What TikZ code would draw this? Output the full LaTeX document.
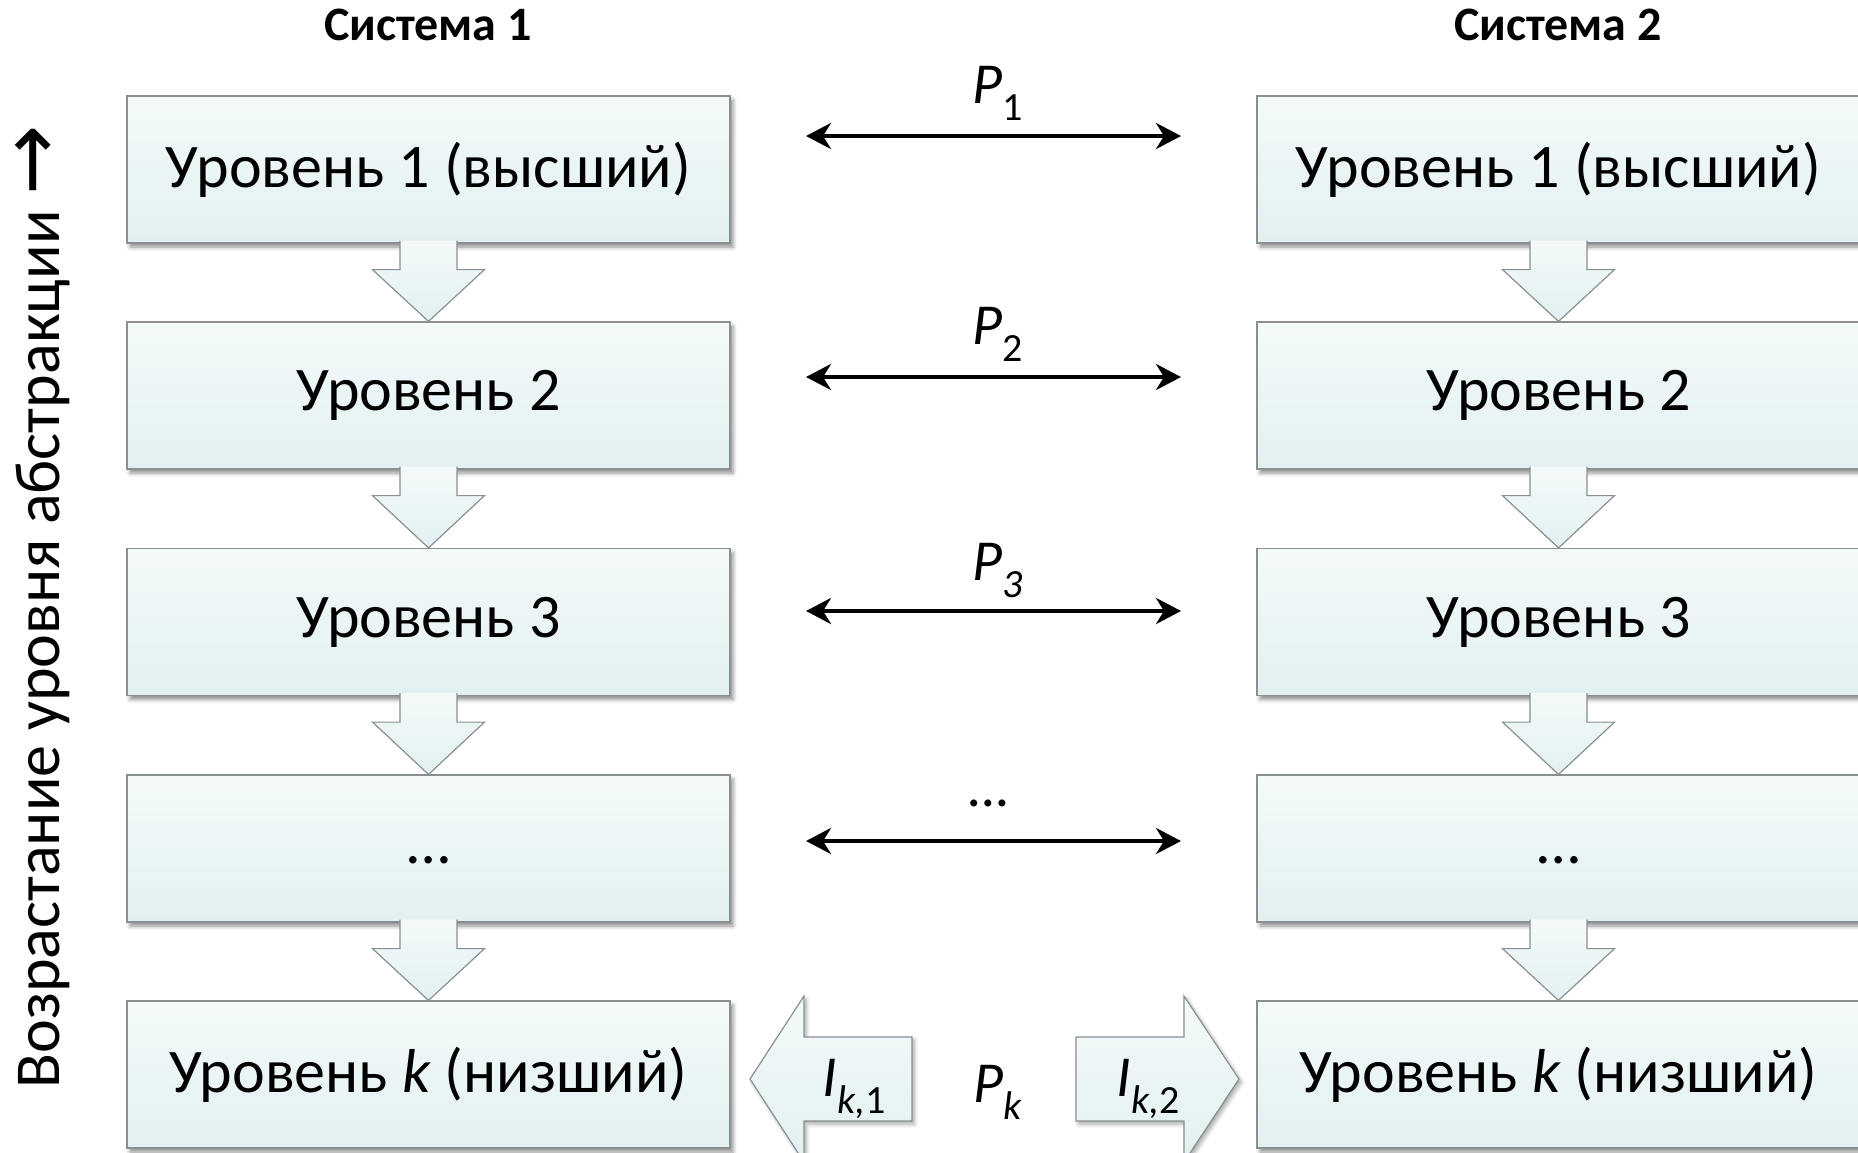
\documentclass[tikz,border=0pt]{standalone}
\usepackage{fontspec}
\setmainfont{Carlito}
\newfontfamily\symfont{DejaVu Sans}
\usetikzlibrary{calc,arrows.meta,shadows.blur}

\definecolor{boxtop}{HTML}{F4FAFA}
\definecolor{boxbot}{HTML}{E2F0F1}
\definecolor{boxline}{HTML}{8A8F90}

% lowered index after an italic letter
\newcommand\lowidx[1]{\raisebox{-8.5pt}{\fontsize{20}{20}\selectfont #1}}

\tikzset{
  level/.style={draw=boxline, line width=0.6pt, top color=boxtop, bottom color=boxbot,
    minimum width=301.5pt, minimum height=73.5pt, inner sep=0pt,
    font=\fontsize{31}{36}\selectfont,
    blur shadow={shadow xshift=1.5pt, shadow yshift=-2pt, shadow blur radius=2pt, shadow opacity=45}},
  flow/.style={draw=boxline, line width=0.6pt, top color=boxtop, bottom color=boxbot},
  fatflow/.style={draw=boxline, line width=0.6pt, top color=boxtop, bottom color=boxbot,
    blur shadow={shadow xshift=1.2pt, shadow yshift=-1.5pt, shadow blur radius=2pt, shadow opacity=35}},
  peer/.style={line width=2.2pt,
    {Stealth[length=12.5pt,width=13pt,inset=4pt]}-{Stealth[length=12.5pt,width=13pt,inset=4pt]}},
  lbl/.style={inner sep=0pt, anchor=base west, font=\fontsize{29}{34}\selectfont},
  head/.style={inner sep=0pt, anchor=base, font=\fontsize{24}{28}\selectfont\bfseries},
}

\begin{document}
\begin{tikzpicture}[x=0.5pt, y=-0.5pt]
\useasboundingbox (0,0) rectangle (1858,1152);

% column headers
\node[head] (sys1) at (428,40) {Система 1};
\node[head] (sys2) at (1558,40) {Система 2};

% system 1 layers
\node[level] (L1) at (428.5,169.5)  {Уровень 1 (высший)};
\node[level] (L2) at (428.5,395.5)  {Уровень 2};
\node[level] (L3) at (428.5,622)    {Уровень 3};
\node[level] (L4) at (428.5,848.5)  {\vphantom{Уровень}…};
\node[level] (L5) at (428.5,1074.5) {Уровень \textit{k} (низший)};

% system 2 layers
\node[level] (R1) at (1558.5,169.5)  {Уровень 1 (высший)};
\node[level] (R2) at (1558.5,395.5)  {Уровень 2};
\node[level] (R3) at (1558.5,622)    {Уровень 3};
\node[level] (R4) at (1558.5,848.5)  {\vphantom{Уровень}…};
\node[level] (R5) at (1558.5,1074.5) {Уровень \textit{k} (низший)};

% block arrows going down the stack
\foreach \a/\b in {L1/L2,L2/L3,L3/L4,L4/L5,R1/R2,R2/R3,R3/R4,R4/R5}{
  \path[flow] ($(\a.south)+(-28.5,-3)$) -- ($(\a.south)+(-28.5,26)$)
    -- ($(\a.south)+(-56,26)$) -- (\b.north) -- ($(\a.south)+(56,26)$)
    -- ($(\a.south)+(28.5,26)$) -- ($(\a.south)+(28.5,-3)$);
}

% peer protocols
\coordinate (h1w) at (806,136);  \coordinate (h1e) at (1181,136);
\coordinate (h2w) at (806,377);  \coordinate (h2e) at (1181,377);
\coordinate (h3w) at (806,611);  \coordinate (h3e) at (1181,611);
\coordinate (h4w) at (806,841);  \coordinate (h4e) at (1181,841);
\draw[peer] (h1w) -- (h1e);
\draw[peer] (h2w) -- (h2e);
\draw[peer] (h3w) -- (h3e);
\draw[peer] (h4w) -- (h4e);

\node[lbl] (p1) at (972,103) {\textit{P}\lowidx{1}};
\node[lbl] (p2) at (972,344) {\textit{P}\lowidx{2}};
\node[lbl] (p3) at (972,580) {\textit{P}\lowidx{\textit{3}}};
\node[lbl, anchor=base] (p4) at (989,806) {\textit{…}};

% physical interfaces of the lowest layer
\path[fatflow] (912,1037) -- (804,1037) -- (804,996) -- (750,1079)
  -- (804,1162) -- (804,1121) -- (912,1121) -- cycle;
\path[fatflow] (1076,1037) -- (1184,1037) -- (1184,996) -- (1239,1079)
  -- (1184,1162) -- (1184,1121) -- (1076,1121) -- cycle;
\node[lbl] (ik1) at (822,1096) {\textit{I}\lowidx{\textit{k,}1}};
\node[lbl] (pk)  at (973,1102) {\textit{P}\lowidx{\textit{k}}};
\node[lbl] (ik2) at (1116,1096) {\textit{I}\lowidx{\textit{k,}2}};

% vertical axis caption
\node[rotate=90, anchor=base, inner sep=0pt, font=\fontsize{32}{38}\selectfont] (axis)
  at (59,607) {Возрастание уровня абстракции {\symfont\fontsize{42}{42}\selectfont →}};
\end{tikzpicture}
\end{document}
